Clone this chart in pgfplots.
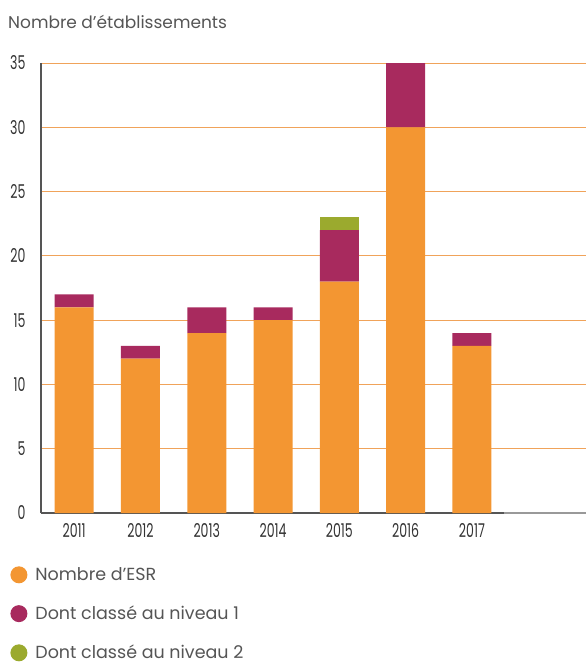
\documentclass[border=0pt]{standalone}
\usepackage{fontspec}
\setmainfont{Poppins}
\newfontfamily\tickfont[FakeStretch=0.66]{Poppins}
\usepackage{pgfplots}
\pgfplotsset{compat=1.18}
\definecolor{cOr}{HTML}{F39632}
\definecolor{cMa}{HTML}{A82A5E}
\definecolor{cGr}{HTML}{9BAA2E}
\definecolor{cGrid}{HTML}{F0A35A}
\definecolor{cTxt}{HTML}{555555}
\definecolor{cAx}{HTML}{555555}
\begin{document}
\begin{tikzpicture}
\begin{axis}[
  scale only axis, width=545pt, height=450pt,
  ybar stacked, bar width=39pt,
  xmin=-0.5, xmax=7.72, ymin=0, ymax=35,
  xtick={0,...,6}, xticklabels={2011,2012,2013,2014,2015,2016,2017},
  ytick={0,5,...,35},
  ymajorgrids, grid style={cGrid, line width=1pt},
  axis x line*=bottom, x axis line style={draw=none},
  axis y line*=left, y axis line style={cAx, line width=1.2pt, -},
  major tick length=0pt,
  /pgf/number format/assume math mode=true,
  ticklabel style={font=\tickfont\fontsize{19}{21}\selectfont, text=black!80},
  yticklabel style={xshift=-12pt},
  xticklabel style={yshift=-7pt},
  clip=false,
  legend style={at={(-0.062,-0.112)}, anchor=north west, draw=none, fill=none,
    font=\fontsize{17.5}{19}\selectfont, text=cTxt, row sep=20pt,
    /tikz/every odd column/.append style={column sep=6pt}},
  legend cell align=left,
  legend image code/.code={\fill[#1] (6pt,0pt) circle (8.5pt);},
]
\addplot[fill=cOr, draw=none] coordinates {(0,16) (1,12) (2,14) (3,15) (4,18) (5,30) (6,13)};
\addplot[fill=cMa, draw=none] coordinates {(0,1) (1,1) (2,2) (3,1) (4,4) (5,5) (6,1)};
\addplot[fill=cGr, draw=none] coordinates {(0,0) (1,0) (2,0) (3,0) (4,1) (5,0) (6,0)};
\legend{Nombre d’ESR, Dont classé au niveau 1, Dont classé au niveau 2}
\draw[cAx, line width=1.5pt] (axis cs:-0.5,0) -- (axis cs:6.48,0);
\draw[black!40, line width=1.5pt] (axis cs:6.48,0) -- (axis cs:7.72,0);
\coordinate (O) at (rel axis cs:0,0);
\end{axis}
\node[anchor=west,text=cTxt,font=\fontsize{17}{19}\selectfont,inner sep=0pt] at ([shift={(-33pt,491pt)}]O) {Nombre d’établissements};
\pgfresetboundingbox
\path[use as bounding box] ([shift={(-41pt,-152pt)}]O) rectangle ++(586pt,665pt);
\end{tikzpicture}
\end{document}
